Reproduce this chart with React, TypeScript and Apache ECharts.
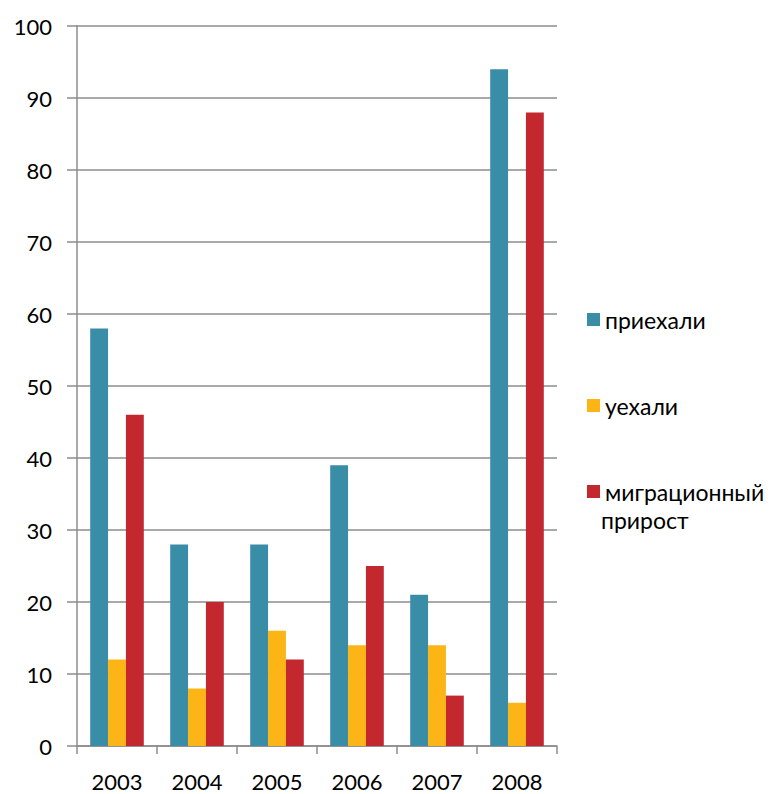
import React, { useEffect, useRef } from "react";
import * as echarts from "echarts";

const years = ["2003", "2004", "2005", "2006", "2007", "2008"];
const arrived = [58, 28, 28, 39, 21, 94];
const left = [12, 8, 16, 14, 14, 6];
const growth = [46, 20, 12, 25, 7, 88];
const seriesNames = ["приехали", "уехали", "миграционный прирост"];
const colors = ["#3A8DA7", "#FDB515", "#C3282E"];

export default function App() {
  const ref = useRef<HTMLDivElement>(null);
  useEffect(() => {
    if (!ref.current) return;
    const chart = echarts.init(ref.current, undefined, { renderer: "svg" });
    const font = "Lato, 'Open Sans', sans-serif";
    const [firstWord, secondWord] = seriesNames[2].split(" ");
    chart.setOption({
      animation: false,
      color: colors,
      textStyle: { fontFamily: font },
      grid: { left: 77, right: 225, top: 26, bottom: 48 },
      legend: {
        orient: "vertical",
        left: 582,
        top: 300,
        itemWidth: 13,
        itemHeight: 13,
        itemGap: 57,
        icon: "rect",
        data: seriesNames,
        textStyle: { fontSize: 23, color: "#000", fontFamily: font, lineHeight: 29 },
        formatter: (n: string) => (n === seriesNames[2] ? firstWord : n),
      },
      graphic: [
        {
          type: "text",
          left: 601,
          top: 508,
          style: { text: secondWord, font: `23px ${font}`, fill: "#000" },
        },
      ],
      xAxis: {
        type: "category",
        data: years,
        axisLine: { lineStyle: { color: "#8C8C8C", width: 1.5 } },
        axisTick: { show: true, length: 8, lineStyle: { color: "#8C8C8C", width: 1.5 } },
        axisLabel: { fontSize: 22, color: "#000", margin: 24, fontFamily: font },
      },
      yAxis: {
        type: "value",
        min: 0,
        max: 100,
        interval: 10,
        axisLine: { show: true, lineStyle: { color: "#8C8C8C", width: 1.5 } },
        axisTick: { show: true, length: 10, lineStyle: { color: "#8C8C8C", width: 1.5 } },
        axisLabel: { fontSize: 22, color: "#000", margin: 25, fontFamily: font },
        splitLine: { lineStyle: { color: "#8C8C8C", width: 1.5 } },
      },
      series: [
        { name: seriesNames[0], type: "bar", data: arrived, barGap: "0%", barCategoryGap: "33%" },
        { name: seriesNames[1], type: "bar", data: left, barGap: "0%", barCategoryGap: "33%" },
        { name: seriesNames[2], type: "bar", data: growth, barGap: "0%", barCategoryGap: "33%" },
      ],
    });
    return () => chart.dispose();
  }, []);
  return <div ref={ref} style={{ width: 782, height: 794, position: "absolute", left: 0, top: 0 }} />;
}
